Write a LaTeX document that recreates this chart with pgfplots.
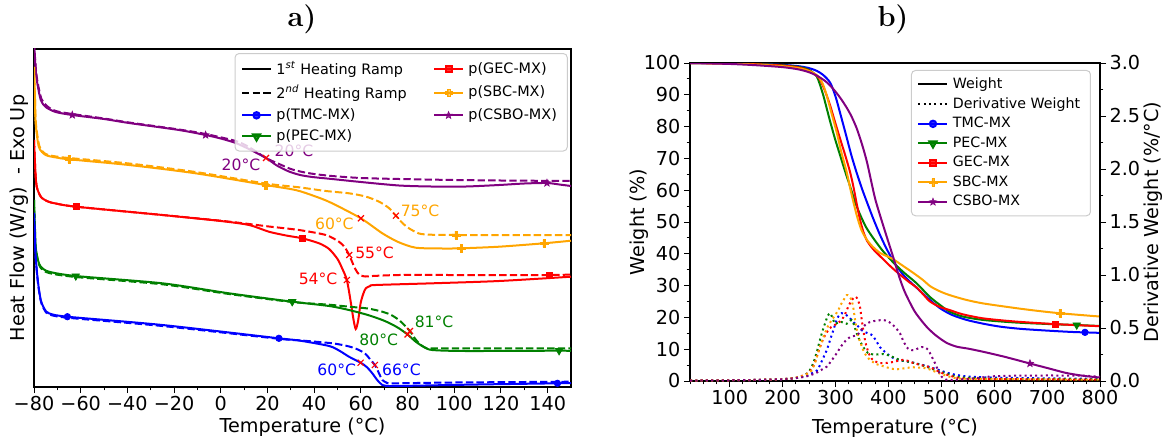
\documentclass[border=0pt]{standalone}
\usepackage{fontspec}
\setsansfont{DejaVu Sans}
\usepackage{pgfplots}
\pgfplotsset{compat=1.18}

\definecolor{mplblue}{RGB}{0,0,255}
\definecolor{mplgreen}{RGB}{0,128,0}
\definecolor{mplred}{RGB}{255,0,0}
\definecolor{mplorange}{RGB}{255,165,0}
\definecolor{mplpurple}{RGB}{128,0,128}

% filled five-pointed star marker
\pgfdeclareplotmark{fstar}{%
  \pgfpathmoveto{\pgfpointpolar{90}{\pgfplotmarksize}}%
  \pgfpathlineto{\pgfpointpolar{126}{0.42\pgfplotmarksize}}%
  \pgfpathlineto{\pgfpointpolar{162}{\pgfplotmarksize}}%
  \pgfpathlineto{\pgfpointpolar{198}{0.42\pgfplotmarksize}}%
  \pgfpathlineto{\pgfpointpolar{234}{\pgfplotmarksize}}%
  \pgfpathlineto{\pgfpointpolar{270}{0.42\pgfplotmarksize}}%
  \pgfpathlineto{\pgfpointpolar{306}{\pgfplotmarksize}}%
  \pgfpathlineto{\pgfpointpolar{342}{0.42\pgfplotmarksize}}%
  \pgfpathlineto{\pgfpointpolar{18}{\pgfplotmarksize}}%
  \pgfpathlineto{\pgfpointpolar{54}{0.42\pgfplotmarksize}}%
  \pgfpathclose\pgfusepathqfillstroke}

% filled thick plus marker
\pgfdeclareplotmark{fplus}{%
  \pgfpathmoveto{\pgfqpoint{-0.3\pgfplotmarksize}{\pgfplotmarksize}}%
  \pgfpathlineto{\pgfqpoint{0.3\pgfplotmarksize}{\pgfplotmarksize}}%
  \pgfpathlineto{\pgfqpoint{0.3\pgfplotmarksize}{0.3\pgfplotmarksize}}%
  \pgfpathlineto{\pgfqpoint{\pgfplotmarksize}{0.3\pgfplotmarksize}}%
  \pgfpathlineto{\pgfqpoint{\pgfplotmarksize}{-0.3\pgfplotmarksize}}%
  \pgfpathlineto{\pgfqpoint{0.3\pgfplotmarksize}{-0.3\pgfplotmarksize}}%
  \pgfpathlineto{\pgfqpoint{0.3\pgfplotmarksize}{-\pgfplotmarksize}}%
  \pgfpathlineto{\pgfqpoint{-0.3\pgfplotmarksize}{-\pgfplotmarksize}}%
  \pgfpathlineto{\pgfqpoint{-0.3\pgfplotmarksize}{-0.3\pgfplotmarksize}}%
  \pgfpathlineto{\pgfqpoint{-\pgfplotmarksize}{-0.3\pgfplotmarksize}}%
  \pgfpathlineto{\pgfqpoint{-\pgfplotmarksize}{0.3\pgfplotmarksize}}%
  \pgfpathlineto{\pgfqpoint{-0.3\pgfplotmarksize}{0.3\pgfplotmarksize}}%
  \pgfpathclose\pgfusepathqfillstroke}

\tikzset{ann/.style={font=\sffamily\fontsize{7.8}{9}\selectfont, inner sep=0.5pt}}

\pgfplotsset{
  every axis/.append style={
    scale only axis,
    font=\sffamily\fontsize{9.6}{11.5}\selectfont,
    tick align=outside,
    major tick length=3pt,
    minor tick length=1.7pt,
    tick style={black, line width=0.5pt},
    axis line style={line width=0.6pt},
    tick label style={font=\sffamily\fontsize{9.6}{11.5}\selectfont, inner sep=1.6pt},
    /pgf/number format/assume math mode=true,
    legend image code/.code={\draw[mark repeat=2,mark phase=2,#1] plot coordinates {(0pt,0pt) (7.25pt,0pt) (14.5pt,0pt)};},
  },
  crv/.style={line width=1pt, smooth, tension=0.45, forget plot, mark=none},
  lw/.style={line width=1pt},
  dsh/.style={dash pattern=on 3.7pt off 1.6pt},
  dot/.style={dash pattern=on 1pt off 1.65pt},
  mk/.style={only marks, forget plot},
  mTMC/.style={mark=*, mark size=1.6pt, mark options={solid}},
  mPEC/.style={mark=triangle*, mark size=2.1pt, mark options={solid, rotate=180}},
  mGEC/.style={mark=square*, mark size=1.5pt, mark options={solid}},
  mSBC/.style={mark=fplus, mark size=1.9pt, mark options={solid, line width=0.2pt}},
  mCSBO/.style={mark=fstar, mark size=1.9pt, mark options={solid, line width=0.3pt}},
  tg/.style={mark=x, mark size=2.1pt, mplred, line width=0.6pt, only marks, forget plot},
}

\begin{document}
\begin{tikzpicture}
\path[use as bounding box] (0,0) rectangle (582.5pt,220pt);

\node[font=\rmfamily\bfseries\fontsize{14.5}{16}\selectfont] at (151pt,210.5pt) {a)};
\node[font=\rmfamily\bfseries\fontsize{14.5}{16}\selectfont] at (446.5pt,210.5pt) {b)};

% ---------------- a) DSC heating ramps ----------------
\begin{axis}[
  at={(17pt,26.5pt)}, anchor=south west,
  width=268.5pt, height=169pt,
  xmin=-80, xmax=150, ymin=0, ymax=338,
  xtick={-80,-60,...,140},
  xticklabels={−80,−60,−40,−20,0,20,40,60,80,100,120,140},
  minor x tick num=1,
  ytick=\empty,
  xtick pos=left,
  xlabel={Temperature (°C)},
  ylabel={Heat Flow (W/g) \ - Exo Up},
  xlabel style={at={(axis description cs:0.5,-0.12)}, anchor=center},
  ylabel style={at={(axis description cs:-0.027,0.5)}, anchor=center},
  legend columns=2,
  legend cell align=left,
  legend style={at={(0.994,0.988)}, anchor=north east,
    font=\sffamily\fontsize{7.2}{8.6}\selectfont,
    draw=black!20, line width=0.5pt, rounded corners=2pt,
    fill=white, fill opacity=0.8, text opacity=1,
    inner xsep=3pt, inner ysep=2pt,
    nodes={inner ysep=1.8pt, inner xsep=2.2pt},
    /tikz/every even column/.append style={column sep=11pt}},
]
% CSBO
\addplot[crv, mplpurple] coordinates {(-80,345) (-79.3,318) (-78.6,304) (-77.1,287) (-75,280) (-70.7,275) (-63.6,272) (-50,268) (-39.3,264) (-17.9,257) (-6.5,252) (0,248.5) (6.4,244) (12,238) (19.4,229) (24,221.5) (29.2,215.5) (34,212) (39.2,210) (47.6,208) (60,205) (76.3,201.5) (90,200.5) (105,200.5) (119.2,202) (130,203.5) (139.7,204) (145,202.5) (150,201)};
\addplot[crv, dsh, mplpurple] coordinates {(-80,345) (-79.2,318) (-78.4,304) (-76.8,288) (-74.5,281) (-70.7,276) (-63.6,273) (-50,268.5) (-39.3,264.5) (-17.9,257.5) (-6.5,253) (6.4,246) (12,240) (19.4,229) (25,223) (30,218) (35,215) (40,213) (47.6,211) (60,209) (76.3,208) (100,207) (120,206.5) (150,206)};
\addplot[mk, mplpurple, mCSBO] coordinates {(-63.6,272) (-6.5,252) (139.7,204)};
% SBC
\addplot[crv, mplorange] coordinates {(-80,320) (-79.6,290) (-79.3,264) (-77.9,240) (-75,232) (-70,229.3) (-65,227.7) (-39.3,222) (-10.8,213.7) (19.2,202) (32,197) (40,191) (47,184.5) (60,168.7) (69.2,153.7) (76,145) (83.5,139.3) (95,138.5) (103,138.7) (119.2,140.3) (138.4,143.7) (150,146.3)};
\addplot[crv, dsh, mplorange] coordinates {(-80,320) (-79.6,290) (-79.2,264) (-77.7,241) (-75,233) (-70,230.3) (-65,229) (-39.3,223.5) (-10.8,215) (19.2,203.5) (33.5,199.7) (45,196) (54.9,193.7) (62,190.5) (67.8,185.3) (72,179) (75,171.3) (78,163.5) (80.6,158.7) (84.9,153.5) (90,152.3) (100.7,152) (150,152)};
\addplot[mk, mplorange, mSBC] coordinates {(-65,227.7) (19.2,202) (103,138.7) (138.4,143.7) (100.7,152)};
% GEC
\addplot[crv, mplred] coordinates {(-80,247) (-79.4,215) (-78.8,200) (-77,190) (-74,185.5) (-70.7,183.5) (-62,180.3) (-25,172) (0,166) (12.1,162) (20.6,155.3) (28,151.5) (34.9,148.7) (42.1,143.7) (46.4,138) (50,128) (52.1,118) (54,107) (55.6,86) (56.8,68) (57.8,58) (58.8,66) (59.9,84) (61,93) (62.1,98.7) (64,101) (66.3,102) (90.6,103.7) (119.2,106) (150,110.3)};
\addplot[crv, dsh, mplred] coordinates {(-80,247) (-79.4,215) (-78.8,200) (-77,190) (-74,185.5) (-70.7,183.5) (-62,180.3) (-25,172) (0,166.3) (12.1,163) (20.6,160.5) (33.5,157) (45,152) (50.6,145.3) (53,140) (55,132) (57,121) (58.5,114.5) (60,111.5) (62.1,110.5) (65,111) (76.3,112) (100,112) (140.6,112) (150,112.5)};
\addplot[mk, mplred, mGEC] coordinates {(-62,180.3) (34.9,148.7) (140.6,112)};
% PEC
\addplot[crv, mplgreen] coordinates {(-80,187) (-79.6,160) (-79.3,140.3) (-78.3,127) (-77.1,120.3) (-73.6,115.3) (-62.1,111) (-25,103.7) (3.5,93.7) (30.6,85.3) (46.4,81) (54.9,77) (63,72) (69.2,67) (73,63) (76.3,58.7) (80,52.5) (83.5,45.3) (87,40) (90.6,37) (104.9,36) (144.9,36.3) (150,36)};
\addplot[crv, dsh, mplgreen] coordinates {(-80,187) (-79.6,160) (-79.3,140) (-78.3,126) (-77.1,119) (-73.6,114) (-62.1,110) (-25,102.7) (3.5,93) (30.6,85) (46.4,82.3) (54.9,80.3) (63,78.5) (69.2,75.3) (73,72) (76.3,67) (79,61) (81,56) (83,49) (84.9,43.7) (87,40) (89.2,38.7) (100,38.7) (150,38.7)};
\addplot[mk, mplgreen, mPEC] coordinates {(-62.1,111) (30.6,85.3) (144.9,36.3)};
% TMC
\addplot[crv, mplblue] coordinates {(-80,174) (-79.6,150) (-79.3,130.3) (-78.3,105) (-77.1,87) (-75.5,78) (-73.6,73.7) (-65.7,70.3) (-25,62) (24.9,48.7) (33.5,46.5) (46.4,41) (51,36) (54.9,30.3) (59.9,24.3) (62.5,20) (64.9,13.7) (67,7) (69.2,2) (72,1) (76.3,1) (110,2.5) (144.2,3.7) (150,4)};
\addplot[crv, dsh, mplblue] coordinates {(-80,174) (-79.6,150) (-79.3,130) (-78.3,104) (-77.1,86) (-75.5,77) (-73.6,72.7) (-65.7,69.3) (-25,61) (24.9,48.2) (33.5,46.7) (47.8,43.7) (55,40.5) (59.2,37) (62,33) (64.2,27) (66,22) (67.5,15) (69.2,7) (71,4.5) (73.5,3.7) (100,4.5) (150,5.3)};
\addplot[mk, mplblue, mTMC] coordinates {(-65.7,70.3) (24.9,48.7) (144.2,3.7)};
% transition points
\addplot[tg] coordinates {(19.4,229) (60,168.7) (75,171.3) (54,107) (55,132) (80,52.5) (81,56) (59.9,24.3) (66,22)};
\node[ann, text=mplpurple, anchor=east] at (axis cs:17.5,222) {20°C};
\node[ann, text=mplpurple, anchor=west] at (axis cs:22.5,236) {20°C};
\node[ann, text=mplorange, anchor=east] at (axis cs:57.5,163) {60°C};
\node[ann, text=mplorange, anchor=west] at (axis cs:76.5,176) {75°C};
\node[ann, text=mplred, anchor=east] at (axis cs:50.5,108) {54°C};
\node[ann, text=mplred, anchor=west] at (axis cs:57,134) {55°C};
\node[ann, text=mplgreen, anchor=east] at (axis cs:76.5,47) {80°C};
\node[ann, text=mplgreen, anchor=west] at (axis cs:82.5,65) {81°C};
\node[ann, text=mplblue, anchor=east] at (axis cs:58.5,17) {60°C};
\node[ann, text=mplblue, anchor=west] at (axis cs:68.5,17) {66°C};
% legend (column-major order as two columns)
\addlegendimage{black, lw}
\addlegendentry{1\textsuperscript{\itshape st} Heating Ramp}
\addlegendimage{mplred, lw, mGEC}
\addlegendentry{p(GEC-MX)}
\addlegendimage{black, lw, dsh}
\addlegendentry{2\textsuperscript{\itshape nd} Heating Ramp}
\addlegendimage{mplorange, lw, mSBC}
\addlegendentry{p(SBC-MX)}
\addlegendimage{mplblue, lw, mTMC}
\addlegendentry{p(TMC-MX)}
\addlegendimage{mplpurple, lw, mCSBO}
\addlegendentry{p(CSBO-MX)}
\addlegendimage{mplgreen, lw, mPEC}
\addlegendentry{p(PEC-MX)}
\end{axis}

% ---------------- b) TGA weight ----------------
\begin{axis}[
  at={(345pt,29.5pt)}, anchor=south west,
  width=205pt, height=159pt,
  xmin=25, xmax=800, ymin=0, ymax=100,
  xtick={100,200,...,800},
  minor xtick={25,50,...,800},
  ytick={0,10,...,100},
  minor y tick num=1,
  xtick pos=left, ytick pos=left,
  xlabel={Temperature (°C)},
  ylabel={Weight (\%)},
  xlabel style={at={(axis description cs:0.5,-0.147)}, anchor=center},
  ylabel style={at={(axis description cs:-0.125,0.5)}, anchor=center},
]
\addplot[crv, mplblue] coordinates {(25,100) (100,99.9) (150,99.7) (200,99.4) (230,99.0) (250,98.4) (265,97.5) (277,96.2) (290,93.8) (300,89.5) (310,83.5) (320,77.3) (330,71) (340,65.5) (350,60.5) (360,56) (371.5,51) (384,46) (396.8,41.5) (412,37) (430,33) (453.5,29.3) (475,26) (497.5,22.9) (520,20.8) (548,19.2) (580,18) (611,17.1) (650,16.4) (705,15.8) (750,15.4) (790,15.2) (800,15.1)};
\addplot[crv, mplgreen] coordinates {(25,100) (100,99.9) (150,99.7) (200,99.3) (230,98.8) (245,98.2) (255,97.3) (264.5,95.8) (270,93.5) (277,89.8) (283,86) (289.6,81.8) (299,76.2) (308.5,71.1) (318,66) (327.4,61.3) (337,56.3) (346.3,52.4) (358,48.3) (371.5,44.9) (390,40.8) (412,36.8) (430,34) (453.5,30.7) (478,26.5) (500,23.6) (516,21.8) (540,20.3) (579,19.2) (640,18.4) (705,17.9) (756,17.6) (800,17.3)};
\addplot[crv, mplred] coordinates {(25,100) (100,99.8) (150,99.6) (200,99.2) (230,98.6) (250,97.6) (262,96.3) (270,95) (280,91.3) (289.6,86.8) (299,81.5) (308.5,76.3) (318,71.2) (327.4,65.8) (334,61) (340,55.8) (346,51) (352.5,47) (360,44) (371.5,41.4) (384,39.3) (403,36.2) (420,33.7) (440,31) (453.5,29.4) (466,27.2) (478.6,25) (497,23.3) (516,22.3) (540,21) (579,19.7) (640,18.7) (715,17.9) (790,17.3) (800,17.2)};
\addplot[crv, mplorange] coordinates {(25,100) (100,99.8) (150,99.5) (200,99.0) (230,98.4) (250,97.5) (262,96.5) (270,95.3) (277,93) (283,90) (292,84.5) (302,78.4) (311,72) (321,65.8) (330,59) (340,52.2) (349,47.5) (359,44.5) (370,42.3) (384,40.3) (398,39.2) (409,38.3) (425,36.5) (447,34) (465,31.8) (480,29.7) (500,28) (516,27) (545,25.6) (579,24.4) (642,22.9) (680,22.1) (724.6,21.3) (790,20.4) (800,20.3)};
\addplot[crv, mplpurple] coordinates {(25,100) (100,99.7) (150,99.3) (200,98.7) (230,98) (250,97.1) (265,96) (280,94.4) (290,92.9) (300,91) (310,88.8) (321,86) (330,83.3) (340,79.5) (350,74.5) (360,68.5) (374.7,57.5) (390,49) (409,39) (420,33) (431,28) (450,21.8) (472,17.1) (490,14.3) (510,12) (529,10.8) (550,10.2) (579,9.2) (620,7.6) (667.6,5.5) (700,4.1) (737,2.5) (770,1.6) (800,1.1)};
\addplot[mk, mplblue, mTMC] coordinates {(771.6,15.3)};
\addplot[mk, mplgreen, mPEC] coordinates {(756,17.6)};
\addplot[mk, mplred, mGEC] coordinates {(715,17.9)};
\addplot[mk, mplorange, mSBC] coordinates {(724.6,21.3)};
\addplot[mk, mplpurple, mCSBO] coordinates {(667.6,5.5)};
\end{axis}

% ---------------- b) TGA derivative weight ----------------
\begin{axis}[
  at={(345pt,29.5pt)}, anchor=south west,
  width=205pt, height=159pt,
  xmin=25, xmax=800, ymin=0, ymax=3,
  hide x axis,
  axis y line*=right,
  ytick={0,0.5,...,3},
  minor y tick num=1,
  yticklabel style={/pgf/number format/fixed, /pgf/number format/fixed zerofill, /pgf/number format/precision=1},
  ylabel={Derivative Weight (\%/°C)},
  ylabel style={at={(axis description cs:1.13,0.5)}, anchor=center},
  legend cell align=left,
  legend style={at={(0.978,0.978)}, anchor=north east,
    font=\sffamily\fontsize{7.1}{8.5}\selectfont,
    draw=black!20, line width=0.5pt, rounded corners=2pt,
    fill=white, fill opacity=0.8, text opacity=1,
    inner xsep=3pt, inner ysep=2pt,
    nodes={inner ysep=1.5pt, inner xsep=2.2pt}},
]
\addplot[crv, dot, mplblue] coordinates {(25,0.004) (100,0.007) (150,0.01) (200,0.017) (225,0.028) (245,0.05) (258,0.08) (265,0.10) (270.7,0.15) (277,0.22) (283.4,0.29) (290,0.39) (296,0.48) (301,0.56) (305.5,0.61) (311.6,0.64) (316,0.635) (321,0.62) (326,0.60) (330.6,0.575) (335,0.55) (340,0.53) (345,0.505) (349.5,0.48) (356,0.46) (362,0.45) (367,0.44) (371.5,0.42) (378,0.37) (384,0.32) (390,0.29) (396.8,0.26) (405,0.23) (415.6,0.20) (428,0.19) (441,0.18) (453,0.165) (466,0.15) (482,0.125) (497.5,0.10) (513,0.075) (529,0.057) (545,0.045) (560,0.04) (580,0.035) (620,0.03) (700,0.025) (800,0.02)};
\addplot[crv, dot, mplgreen] coordinates {(25,0.004) (100,0.007) (150,0.01) (200,0.018) (225,0.03) (240,0.05) (250,0.09) (258,0.17) (265,0.28) (270.7,0.39) (276,0.48) (280,0.54) (285,0.61) (289.6,0.64) (294,0.6) (299,0.54) (304,0.55) (308.5,0.56) (315,0.55) (321,0.54) (326,0.56) (330.6,0.575) (335,0.53) (340,0.45) (346,0.38) (352.5,0.32) (358,0.28) (365,0.255) (378,0.25) (390,0.255) (402,0.24) (415.6,0.21) (428,0.19) (440.8,0.18) (456,0.16) (472,0.135) (485,0.11) (497.5,0.09) (513,0.065) (529,0.04) (550,0.03) (573,0.025) (620,0.02) (700,0.018) (800,0.015)};
\addplot[crv, dot, mplred] coordinates {(25,0.004) (100,0.007) (150,0.01) (200,0.018) (225,0.03) (240,0.055) (250,0.08) (258,0.14) (264,0.22) (270.7,0.32) (278,0.41) (286.4,0.48) (292,0.51) (299,0.53) (305,0.55) (311.6,0.575) (318,0.63) (324,0.70) (329,0.75) (333.6,0.78) (338,0.795) (342,0.77) (346.3,0.70) (349,0.6) (352.5,0.48) (356,0.38) (359,0.32) (363,0.26) (368.4,0.21) (375,0.185) (384,0.17) (396,0.17) (409.3,0.18) (418,0.19) (428,0.20) (437,0.19) (447,0.17) (462,0.15) (478.6,0.13) (491,0.10) (504,0.07) (520,0.045) (535,0.025) (560,0.02) (620,0.018) (700,0.015) (800,0.013)};
\addplot[crv, dot, mplorange] coordinates {(25,0.004) (100,0.007) (150,0.01) (200,0.018) (225,0.03) (240,0.05) (248,0.07) (255,0.10) (262,0.18) (268,0.28) (274,0.37) (280,0.45) (286,0.52) (293,0.575) (299,0.62) (305.5,0.67) (310,0.72) (315,0.76) (321,0.81) (326,0.80) (330.6,0.76) (334,0.68) (337,0.575) (340,0.49) (343,0.42) (348,0.35) (352.5,0.29) (358,0.24) (365,0.20) (377,0.16) (390,0.14) (403,0.12) (415.6,0.11) (430,0.12) (447,0.13) (460,0.125) (472,0.12) (485,0.095) (497.5,0.07) (513,0.045) (529,0.025) (560,0.02) (620,0.018) (700,0.015) (800,0.012)};
\addplot[crv, dot, mplpurple] coordinates {(25,0.004) (100,0.007) (150,0.01) (200,0.017) (230,0.03) (250,0.05) (265,0.08) (275,0.11) (283.4,0.135) (292,0.19) (302,0.26) (311,0.33) (321,0.39) (330,0.42) (340,0.43) (346,0.46) (352.5,0.51) (360,0.545) (368.4,0.56) (378,0.57) (390,0.575) (398,0.565) (406,0.54) (414,0.50) (421.9,0.45) (428,0.38) (434.5,0.32) (440,0.295) (447,0.29) (455,0.305) (463,0.32) (470,0.315) (475.5,0.29) (482,0.23) (488,0.17) (494,0.10) (500.8,0.04) (508,0.015) (516,0.01) (540,0.015) (570,0.03) (600,0.045) (642,0.05) (700,0.052) (768,0.05) (800,0.04)};
\addlegendimage{black, lw}
\addlegendentry{Weight}
\addlegendimage{black, lw, dot}
\addlegendentry{Derivative Weight}
\addlegendimage{mplblue, lw, mTMC}
\addlegendentry{TMC-MX}
\addlegendimage{mplgreen, lw, mPEC}
\addlegendentry{PEC-MX}
\addlegendimage{mplred, lw, mGEC}
\addlegendentry{GEC-MX}
\addlegendimage{mplorange, lw, mSBC}
\addlegendentry{SBC-MX}
\addlegendimage{mplpurple, lw, mCSBO}
\addlegendentry{CSBO-MX}
\end{axis}
\end{tikzpicture}
\end{document}
